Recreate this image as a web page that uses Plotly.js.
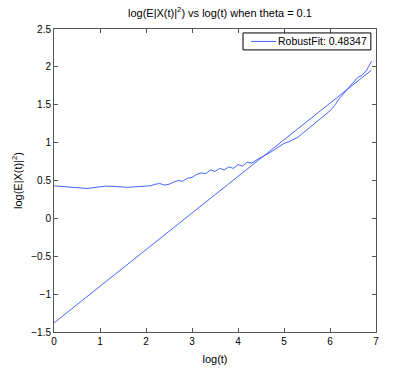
<!DOCTYPE html>
<html>
<head>
<meta charset="utf-8">
<script src="https://cdn.plot.ly/plotly-3.0.1.min.js"></script>
<style>
  html, body { margin: 0; padding: 0; background: #fff; }
  #gd { width: 415px; height: 374px; }
</style>
</head>
<body>
<div id="gd"></div>
<script>
// log(t) samples and measured log(E|X(t)|^2)
let logT = [0.0, 0.1, 0.2, 0.3, 0.4, 0.5, 0.6, 0.7, 0.8, 0.9,
  1.0, 1.1, 1.2, 1.3, 1.4, 1.5, 1.6, 1.7, 1.8, 1.9,
  2.0, 2.1, 2.2, 2.3, 2.4, 2.5, 2.6, 2.7, 2.8, 2.9,
  3.0, 3.1, 3.2, 3.3, 3.4, 3.5, 3.6, 3.7, 3.8, 3.9,
  4.0, 4.1, 4.2, 4.3, 4.4, 4.5, 4.6, 4.7, 4.8, 4.9,
  5.0, 5.1, 5.2, 5.3, 5.4, 5.5, 5.6, 5.7, 5.8, 5.9,
  6.0, 6.1, 6.2, 6.3, 6.4, 6.5, 6.6, 6.7, 6.8, 6.9];
let logMsd = [0.43, 0.425, 0.42, 0.41, 0.405, 0.40, 0.395, 0.395, 0.40, 0.41,
  0.42, 0.425, 0.425, 0.42, 0.415, 0.41, 0.41, 0.415, 0.42, 0.42,
  0.425, 0.43, 0.45, 0.46, 0.44, 0.45, 0.48, 0.50, 0.49, 0.53,
  0.54, 0.58, 0.60, 0.59, 0.64, 0.62, 0.66, 0.64, 0.68, 0.66,
  0.71, 0.69, 0.74, 0.73, 0.77, 0.80, 0.84, 0.87, 0.91, 0.95,
  0.99, 1.01, 1.04, 1.07, 1.12, 1.17, 1.22, 1.26, 1.31, 1.36,
  1.42, 1.49, 1.58, 1.65, 1.72, 1.80, 1.86, 1.89, 1.96, 2.07];

// robust fit
let fitSlope = 0.48347;
let fitIntercept = -1.38;
let fitLabel = 'RobustFit: 0.48347';
let fitX = [logT[0], logT[logT.length - 1]];
let fitY = fitX.map(x => fitIntercept + fitSlope * x);

let blue = 'rgb(70, 100, 255)';

let dataTrace = {
  x: logT,
  y: logMsd,
  mode: 'lines',
  showlegend: false,
  line: { color: blue, width: 1 }
};

let fitTrace = {
  x: fitX,
  y: fitY,
  mode: 'lines',
  name: fitLabel,
  showlegend: false,
  line: { color: blue, width: 1 }
};

let axisStyle = {
  showgrid: false,
  zeroline: false,
  showline: true,
  mirror: 'ticks',
  linecolor: '#555',
  linewidth: 1,
  ticks: 'inside',
  ticklen: 4,
  tickcolor: '#555',
  tickfont: { size: 10, color: '#000' },
  autorange: false
};

let layout = {
  width: 415,
  height: 374,
  margin: { l: 54, r: 39, t: 29, b: 42 },
  paper_bgcolor: '#fff',
  plot_bgcolor: '#fff',
  font: { family: 'Liberation Sans, Arial, sans-serif', size: 10, color: '#000' },
  title: {
    text: 'log(E|X(t)|<sup>2</sup>) vs log(t) when theta = 0.1',
    font: { size: 11 },
    x: 0.53,
    xanchor: 'center',
    y: 0.965,
    yanchor: 'middle'
  },
  xaxis: Object.assign({}, axisStyle, {
    range: [0, 7],
    dtick: 1,
    title: { text: 'log(t)', font: { size: 11 }, standoff: 9 }
  }),
  yaxis: Object.assign({}, axisStyle, {
    range: [-1.5, 2.5],
    dtick: 0.5,
    title: { text: 'log(E|X(t)|<sup>2</sup>)', font: { size: 11 }, standoff: 6 }
  }),
  showlegend: false,
  // MATLAB-style compact legend box
  shapes: [
    { type: 'rect', xref: 'paper', yref: 'paper', x0: 0.587, x1: 0.984, y0: 0.931, y1: 0.987,
      line: { color: '#000', width: 1 }, fillcolor: '#fff', layer: 'above' },
    { type: 'line', xref: 'paper', yref: 'paper', x0: 0.612, x1: 0.690, y0: 0.959, y1: 0.959,
      line: { color: blue, width: 1 }, layer: 'above' }
  ],
  annotations: [
    { xref: 'paper', yref: 'paper', x: 0.690, y: 0.959, xanchor: 'left', yanchor: 'middle',
      text: fitLabel, showarrow: false, font: { size: 10.5 } }
  ]
};

Plotly.newPlot('gd', [dataTrace, fitTrace], layout, { displayModeBar: false, staticPlot: true });
</script>
</body>
</html>
